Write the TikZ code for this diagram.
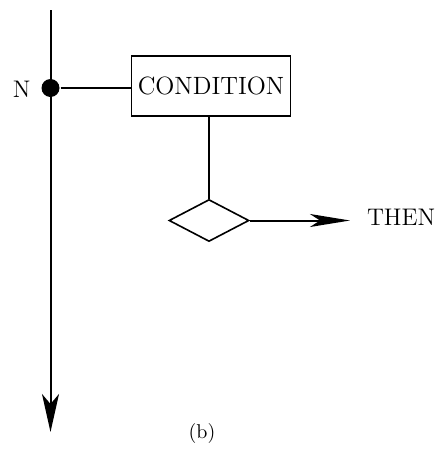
\documentclass[tikz,border=0pt]{standalone}
\usetikzlibrary{arrows.meta,shapes.geometric}
\begin{document}
\begin{tikzpicture}[x=0.5pt,y=-0.5pt,line width=1pt,
  lbl/.style={font=\fontsize{12}{14}\selectfont,inner sep=0pt},
  boxed/.style={draw,line width=0.8pt,inner sep=0pt,font=\fontsize{12.5}{14}\selectfont},
  dec/.style={draw,shape=diamond,line width=0.8pt,inner sep=0pt},
  bigtip/.style={-{Stealth[length=19pt,width=8.5pt,inset=5pt]}},
  htip/.style={-{Stealth[length=20pt,width=6.5pt,inset=5pt]}}]
\useasboundingbox (0,0) rectangle (435,450);
\coordinate (top) at (50.5,10);
\coordinate (bot) at (50.5,432);
\draw[bigtip] (top) -- (bot);
\node[circle,fill,minimum size=9pt,inner sep=0pt] (dot) at (50.5,88) {};
\node[lbl,anchor=east] (N) at (31.5,89) {N};
\node[boxed,minimum width=79.5pt,minimum height=30pt] (cond) at (211,86) {CONDITION};
\draw (dot.east) -- (dot.east -| cond.west);
\node[dec,minimum width=40pt,minimum height=21pt] (dia) at (209,220.5) {};
\draw (cond.south -| dia.north) -- (dia.north);
\coordinate (tip) at (350,220.5);
\draw[htip] (dia.east) -- (tip);
\node[lbl,anchor=west] (then) at (366,217.5) {THEN};
\node[inner sep=0pt,font=\fontsize{10}{12}\selectfont] (cap) at (202,433) {(b)};
\end{tikzpicture}
\end{document}
